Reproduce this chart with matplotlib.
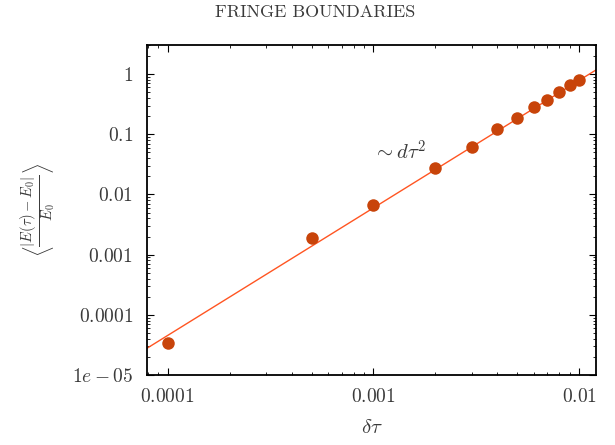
import numpy as np
import matplotlib
matplotlib.use('Agg')
import matplotlib.pyplot as plt

plt.rcParams['mathtext.fontset'] = 'cm'
plt.rcParams['font.family'] = 'serif'
plt.rcParams['font.serif'] = ['cmr10', 'DejaVu Serif']
plt.rcParams['axes.formatter.use_mathtext'] = True

# data
dtau = [1e-4, 5e-4, 1e-3, 2e-3, 3e-3, 4e-3, 5e-3, 6e-3, 7e-3, 8e-3, 9e-3, 1e-2]
err = [3.46e-5, 1.9e-3, 6.8e-3, 0.0279, 0.0624, 0.1245, 0.187, 0.279, 0.373, 0.50, 0.656, 0.785]

# power law guide  a * dtau^b
fit_a = 13700.0
fit_b = 2.12

xticks = [1e-4, 1e-3, 1e-2]
xticklabels = [r'$0.0001$', r'$0.001$', r'$0.01$']
yticks = [1e-5, 1e-4, 1e-3, 1e-2, 1e-1, 1]
yticklabels = [r'$1e-05$', r'$0.0001$', r'$0.001$', r'$0.01$', r'$0.1$', r'$1$']

text_col = '#3a3a3a'

fig = plt.figure(figsize=(6.15, 4.45), dpi=100)
ax = fig.add_axes([147/615, 1 - 375/445, (596-147)/615, (375-45)/445])

xlim = (7.94e-5, 1.205e-2)
xs = np.array(xlim)
ax.plot(xs, fit_a * xs**fit_b, color='#ff5522', lw=1.0, zorder=2)
ax.plot(dtau, err, 'o', color='#c8440a', ms=9, mec='none', zorder=3)

ax.set_xscale('log')
ax.set_yscale('log')
ax.set_xlim(*xlim)
ax.set_ylim(1e-5, 3.04)

ax.set_xticks(xticks)
ax.set_xticklabels(xticklabels)
ax.set_yticks(yticks)
ax.set_yticklabels(yticklabels)

ax.tick_params(which='both', direction='in', top=True, right=True, colors='black',
               labelcolor=text_col, labelsize=14)
ax.tick_params(which='major', length=5, width=0.8)
ax.tick_params(which='minor', length=2.5, width=0.6)
ax.tick_params(axis='x', pad=9)
ax.tick_params(axis='y', pad=10)
for s in ax.spines.values():
    s.set_linewidth(1.3)

ax.text(1.0e-3, 0.052, r'$\sim d\tau^2$', fontsize=15, color=text_col, va='center')

ax.set_xlabel(r'$\delta\tau$', fontsize=15, color=text_col, labelpad=10)
ax.set_ylabel(r'$\left\langle \frac{|E(\tau)-E_0|}{E_0} \right\rangle$', fontsize=15,
              color=text_col, labelpad=10)

fig.text(315/615, 1 - 12/445, 'FRINGE BOUNDARIES', ha='center', va='center',
         fontsize=13, color=text_col, family='serif')

fig.savefig('out.png', dpi=100)
